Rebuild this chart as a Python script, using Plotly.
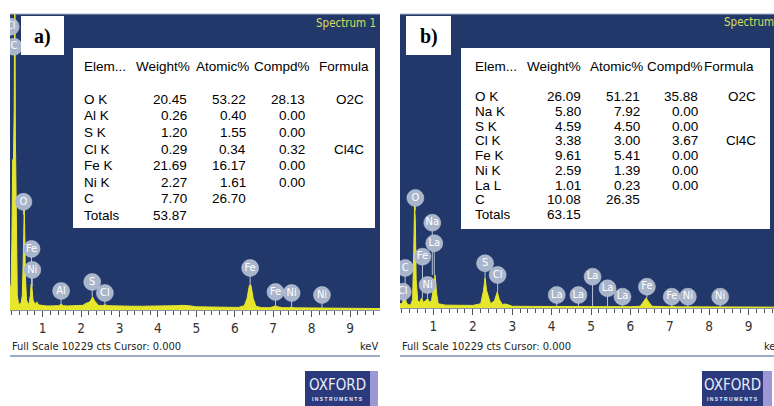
import plotly.graph_objects as go

W, H = 774, 406

# ---------------- spectrum data (keV, counts) ----------------
a_energy = [0.15, 0.18, 0.20, 0.22, 0.24, 0.26, 0.27, 0.28, 0.29, 0.30, 0.32, 0.34, 0.37, 0.40, 0.44,
            0.47, 0.50, 0.52, 0.53, 0.55, 0.58, 0.62, 0.65, 0.68, 0.70, 0.72, 0.75, 0.78, 0.82, 0.85,
            0.88, 0.92, 1.00, 1.10, 1.20, 1.30, 1.42, 1.48, 1.54, 1.65, 1.80, 1.95, 2.05, 2.12, 2.18,
            2.24, 2.30, 2.36, 2.45, 2.55, 2.62, 2.70, 2.85, 3.00, 3.30, 3.60, 4.00, 4.30, 4.50, 4.65,
            4.80, 5.00, 5.40, 5.80, 6.10, 6.25, 6.32, 6.38, 6.42, 6.48, 6.55, 6.70, 6.90, 7.00, 7.06,
            7.12, 7.25, 7.40, 7.47, 7.55, 7.80, 8.10, 8.26, 8.40, 8.80, 9.20, 9.60, 9.80]
a_counts = [700, 900, 2500, 5200, 5200, 7000, 10500, 10500, 6000, 5000, 1500, 500, 250, 200, 250,
            500, 2000, 3500, 3000, 1200, 350, 200, 250, 500, 900, 800, 350, 250, 220, 280,
            200, 170, 150, 140, 140, 140, 150, 200, 150, 140, 140, 140, 160, 230, 250,
            300, 450, 300, 160, 150, 180, 150, 140, 140, 130, 130, 130, 140, 150, 160,
            150, 110, 100, 90, 90, 150, 400, 850, 860, 400, 130, 80, 80, 110, 150,
            110, 80, 80, 95, 75, 70, 65, 75, 60, 55, 50, 50, 50]

b_energy = [0.15, 0.20, 0.25, 0.28, 0.31, 0.35, 0.42, 0.47, 0.50, 0.52, 0.54, 0.56, 0.60, 0.65,
            0.70, 0.74, 0.80, 0.85, 0.90, 0.95, 1.00, 1.04, 1.08, 1.12, 1.30, 1.60, 2.00, 2.20,
            2.27, 2.31, 2.35, 2.45, 2.55, 2.62, 2.67, 2.75, 2.82, 2.90, 3.00, 3.50, 4.00, 4.65,
            5.00, 5.50, 6.00, 6.25, 6.33, 6.40, 6.47, 6.55, 7.00, 7.06, 7.15, 8.00, 9.00, 9.70]
b_counts = [150, 150, 300, 380, 200, 120, 100, 300, 2000, 3600, 3000, 1000, 250, 200,
            350, 200, 250, 330, 200, 250, 700, 1150, 500, 150, 100, 90, 90, 150,
            600, 1050, 600, 150, 250, 560, 300, 120, 140, 110, 60, 55, 50, 55,
            50, 45, 45, 60, 200, 350, 200, 60, 40, 60, 40, 35, 30, 30]

# ---------------- peak labels ----------------
a_lbl_text = ["Cl", "C", "O", "Fe", "Ni", "Al", "S", "Cl", "Fe", "Fe", "Ni", "Ni"]
a_lbl_kev = [0.17, 0.25, 0.50, 0.71, 0.73, 1.48, 2.29, 2.62, 6.40, 7.06, 7.48, 8.27]
a_lbl_cts = [9790, 9100, 3737, 2110, 1384, 657, 969, 588, 1453, 623, 588, 519]
a_stem_cts = [9790, 9100, 3300, 900, 800, 190, 450, 170, 860, 150, 90, 70]

b_lbl_text = ["Cl", "C", "O", "Fe", "Ni", "Na", "La", "S", "Cl", "La", "La", "La", "La", "La",
              "Fe", "Fe", "Ni", "Ni"]
b_lbl_kev = [0.22, 0.28, 0.54, 0.72, 0.85, 0.97, 1.02, 2.31, 2.63, 4.13, 4.68, 5.04, 5.42, 5.80,
             6.42, 7.05, 7.46, 8.28]
b_lbl_cts = [567, 1392, 3828, 1785, 800, 2968, 2252, 1556, 1148, 452, 452, 1089, 686, 393,
             741, 393, 393, 393]
b_stem_cts = [200, 380, 3400, 350, 330, 1150, 1150, 1050, 560, 50, 55, 50, 50, 45,
              350, 60, 40, 35]

# ---------------- quantification tables ----------------
table_cols = ["Elem...", "Weight%", "Atomic%", "Compd%", "Formula"]
a_elem = ["O K", "Al K", "S K", "Cl K", "Fe K", "Ni K", "C", "Totals"]
a_weight = ["20.45", "0.26", "1.20", "0.29", "21.69", "2.27", "7.70", "53.87"]
a_atomic = ["53.22", "0.40", "1.55", "0.34", "16.17", "1.61", "26.70", ""]
a_compd = ["28.13", "0.00", "0.00", "0.32", "0.00", "0.00", "", ""]
a_formula = ["O2C", "", "", "Cl4C", "", "", "", ""]

b_elem = ["O K", "Na K", "S K", "Cl K", "Fe K", "Ni K", "La L", "C", "Totals"]
b_weight = ["26.09", "5.80", "4.59", "3.38", "9.61", "2.59", "1.01", "10.08", "63.15"]
b_atomic = ["51.21", "7.92", "4.50", "3.00", "5.41", "1.39", "0.23", "26.35", ""]
b_compd = ["35.88", "0.00", "0.00", "3.67", "0.00", "0.00", "0.00", "", ""]
b_formula = ["O2C", "", "", "Cl4C", "", "", "", "", ""]

FULL_SCALE = 10229
tick_vals = [1, 2, 3, 4, 5, 6, 7, 8, 9]

# ---------------- styling ----------------
BLUE = "#22386a"
YELLOW = "#e6e62a"
PIN = "#a9b5cb"
NARROW = "DejaVu Sans Condensed, Liberation Sans, sans-serif"
SANS = "Liberation Sans, Arial, sans-serif"
SERIF = "Liberation Serif, Times New Roman, serif"


def X(px):
    return px / W


def Y(py):
    return 1 - py / H


fig = go.Figure()


def add_panel(energy, counts, lt, lk, lc, ls, xa, ya):
    fig.add_trace(go.Scatter(x=energy, y=counts, mode="lines", fill="tozeroy",
                             line=dict(color=YELLOW, width=1), fillcolor=YELLOW,
                             xaxis=xa, yaxis=ya, hoverinfo="skip", showlegend=False))
    sx, sy = [], []
    for k, c, s in zip(lk, lc, ls):
        sx += [k, k, None]
        sy += [c, s, None]
    fig.add_trace(go.Scatter(x=sx, y=sy, mode="lines", line=dict(color="#b9c3d6", width=1),
                             xaxis=xa, yaxis=ya, hoverinfo="skip", showlegend=False))
    fig.add_trace(go.Scatter(x=lk, y=lc, mode="markers+text", text=lt,
                             textposition="middle center",
                             textfont=dict(color="white", size=11, family=NARROW),
                             marker=dict(size=17, color=PIN, line=dict(color="#c8d0de", width=0.5)),
                             xaxis=xa, yaxis=ya, hoverinfo="skip", showlegend=False))


add_panel(a_energy, a_counts, a_lbl_text, a_lbl_kev, a_lbl_cts, a_stem_cts, "x", "y")
add_panel(b_energy, b_counts, b_lbl_text, b_lbl_kev, b_lbl_cts, b_stem_cts, "x2", "y2")

xcommon = dict(tickvals=tick_vals, ticks="outside", ticklen=6, tickcolor="#555", tickwidth=1,
               showgrid=False, zeroline=False, showline=True, linecolor="#8a93a3", linewidth=1,
               tickfont=dict(family=NARROW, size=13.5, color="#333"),
               minor=dict(dtick=0.2, tick0=0, ticks="outside", ticklen=4, tickcolor="#555",
                          showgrid=False))
ycommon = dict(range=[0, FULL_SCALE], visible=False, showgrid=False, zeroline=False)

fig.update_layout(
    width=W, height=H, margin=dict(l=0, r=0, t=0, b=0),
    paper_bgcolor="white", plot_bgcolor=BLUE, showlegend=False,
    xaxis=dict(domain=[X(10), X(380)], range=[0.15, 9.78], anchor="y", **xcommon),
    yaxis=dict(domain=[Y(310), Y(14)], anchor="x", **ycommon),
    xaxis2=dict(domain=[X(400), 1.0], range=[0.15, 9.647], anchor="y2", **xcommon),
    yaxis2=dict(domain=[Y(308), Y(14)], anchor="x2", **ycommon),
)

shapes = []
annotations = []


def rect(x0, y0, x1, y1, color, line=None):
    shapes.append(dict(type="rect", xref="paper", yref="paper", x0=X(x0), x1=X(x1),
                       y0=Y(y1), y1=Y(y0), fillcolor=color,
                       line=dict(width=0) if line is None else line, layer="above"))


def hline(x0, x1, y, color, width):
    shapes.append(dict(type="line", xref="paper", yref="paper", x0=X(x0), x1=X(x1),
                       y0=Y(y), y1=Y(y), line=dict(color=color, width=width), layer="above"))


def text(x, y, s, size, family=SANS, color="black", anchor="left", bold=False):
    annotations.append(dict(x=X(x), y=Y(y), xref="paper", yref="paper", text=f"<b>{s}</b>" if bold else s,
                            showarrow=False, xanchor=anchor, yanchor="middle",
                            font=dict(size=size, family=family, color=color)))


# panel frames
hline(10, 380, 14, "#9fb0c8", 1)
hline(400, 774, 14, "#9fb0c8", 1)
hline(10, 380, 356, "#9cadc4", 2)
hline(400, 774, 356, "#9cadc4", 2)

# panel letter boxes
rect(21, 16, 64, 55, "white")
rect(406, 16, 451, 55, "white")
text(42.5, 36, "a)", 20, SERIF, anchor="center", bold=True)
text(428.5, 36, "b)", 20, SERIF, anchor="center", bold=True)

# Spectrum titles
text(378, 23, "Spectrum 1", 11.5, NARROW, "#d4de5a", anchor="right")
text(722, 22, "Spectrum 1", 11.5, NARROW, "#d4de5a", anchor="left")

# footer texts
text(10, 346, "Full Scale 10229 cts Cursor: 0.000", 11, NARROW, "#222")
text(380, 346, "keV", 11, NARROW, "#222", anchor="right")
text(400, 346, "Full Scale 10229 cts Cursor: 0.000", 11, NARROW, "#222")
text(762, 346, "keV", 11, NARROW, "#222")


def table(box, hdr_x, hdr_y, row_y0, step, col_x, rows):
    rect(*box, "white")
    for hx, h in zip(hdr_x, table_cols):
        text(hx, hdr_y, h, 13.5)
    elem, wt, at, cp, fm = rows
    for i in range(len(elem)):
        y = row_y0 + i * step
        text(col_x[0], y, elem[i], 13.5)
        for cx, col in zip(col_x[1:], (wt, at, cp, fm)):
            if col[i]:
                text(cx, y, col[i], 13.5, anchor="right")


table((73, 48, 375, 228), [81.7, 134, 194, 251.7, 316.7], 66.7, 99.3, 16.6,
      [81.7, 189, 248, 306.7, 365.7], (a_elem, a_weight, a_atomic, a_compd, a_formula))
table((461, 48, 770, 229), [472.7, 525, 587.7, 645, 702.3], 66.7, 96.7, 14.75,
      [472.7, 582.7, 641.7, 700, 758.3], (b_elem, b_weight, b_atomic, b_compd, b_formula))


def logo(x0, x1, x2):
    rect(x0, 371, x1, 406, "#2b3a7c")
    rect(x1, 371, x2, 406, "#9d98d4")
    text((x0 + x1) / 2, 385, "OXFORD", 15, "DejaVu Sans Condensed, sans-serif", "#e8ecf8", anchor="center")
    text((x0 + x1) / 2, 399, "I N S T R U M E N T S", 5, SANS, "#e8ecf8", anchor="center", bold=True)


logo(305, 370, 378)
logo(702, 763, 772)

fig.update_layout(shapes=shapes, annotations=annotations)
fig.write_html("out.html", config={"displayModeBar": False},
               post_script="document.body.style.margin='0px';document.body.style.overflow='hidden';")
